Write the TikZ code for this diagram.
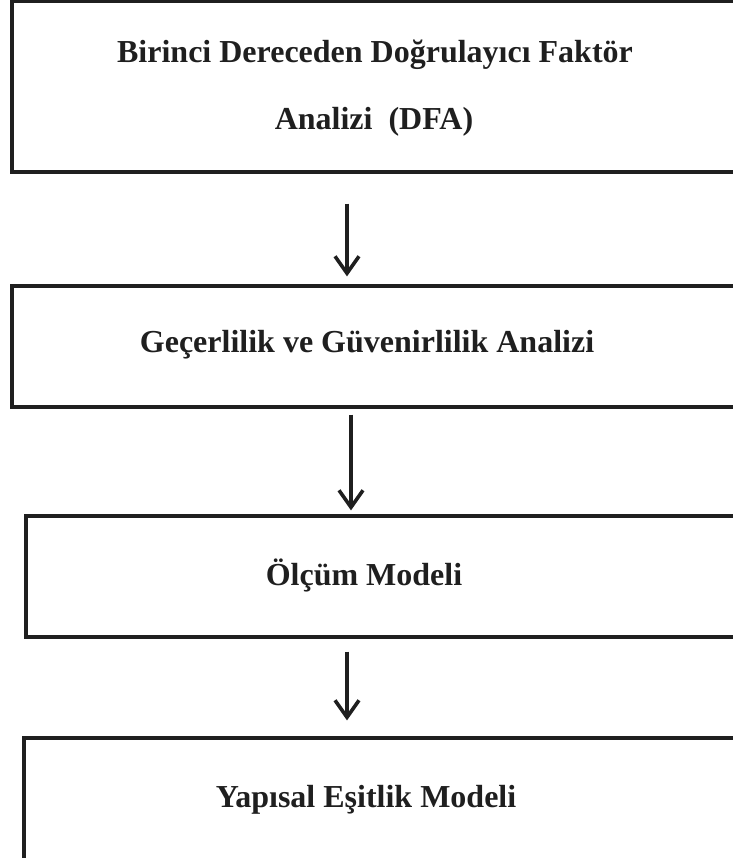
\documentclass[tikz,border=0pt]{standalone}
\usepackage{fontspec}
\setmainfont{Liberation Serif}
\usetikzlibrary{arrows.meta}
\begin{document}
\begin{tikzpicture}[x=1pt,y=1pt,
  box/.style={draw=black!88, line width=3.2pt, rectangle, inner sep=0pt},
  lbl/.style={font=\fontsize{32}{38}\selectfont\bfseries, text=black!88, inner sep=0pt},
  arr/.style={draw=black!88, line width=3.6pt, -{Straight Barb[length=17pt,width=24pt,line width=3.6pt]}}]
\useasboundingbox (0,0) rectangle (732,-858);
\node[box, minimum width=728pt, minimum height=171pt] (b1) at (376,-86.5) {};
\node[box, minimum width=728pt, minimum height=121pt] (b2) at (376,-346.5) {};
\node[box, minimum width=714pt, minimum height=121pt] (b3) at (383,-576.5) {};
\node[box, minimum width=716pt, minimum height=142pt] (b4) at (382,-809) {};
\node[lbl] (t1a) at (375,-55) {Birinci Dereceden Doğrulayıcı Faktör};
\node[lbl] (t1b) at (374,-122) {Analizi\ \ (DFA)};
\node[lbl] (t2) at (367,-345) {Geçerlilik ve Güvenirlilik Analizi};
\node[lbl] (t3) at (364,-575) {Ölçüm Modeli};
\node[lbl] (t4) at (366,-800) {Yapısal Eşitlik Modeli};
\coordinate (x1) at (347,0);
\coordinate (x2) at (351,0);
\coordinate (x3) at (347,0);
\draw[arr, shorten <=30pt, shorten >=8pt] (b1.south -| x1) -- (b2.north -| x1);
\draw[arr, shorten <=6pt, shorten >=4pt] (b2.south -| x2) -- (b3.north -| x2);
\draw[arr, shorten <=13pt, shorten >=16pt] (b3.south -| x3) -- (b4.north -| x3);
\end{tikzpicture}
\end{document}
